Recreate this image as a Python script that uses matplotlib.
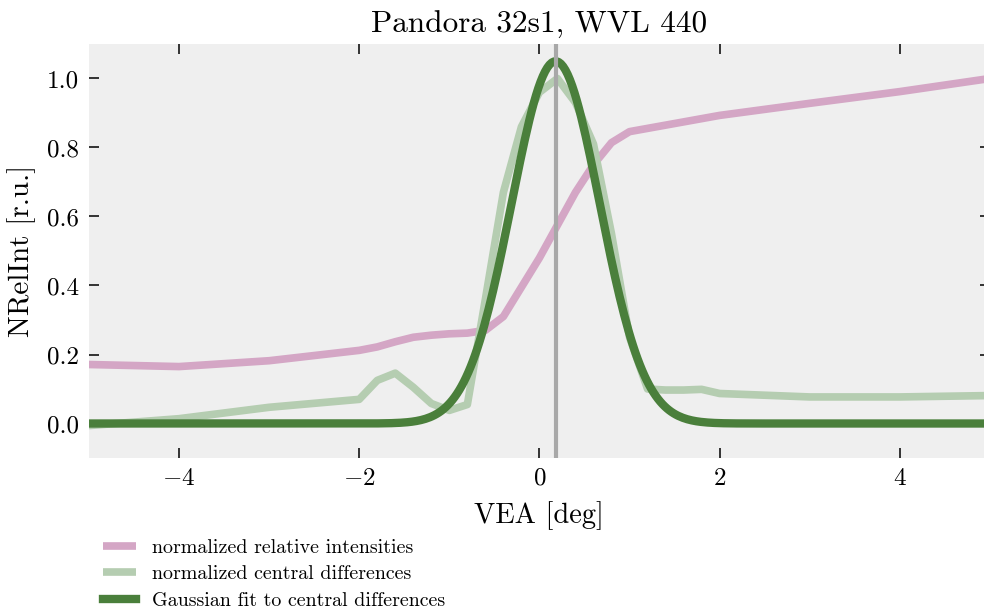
import numpy as np
import matplotlib.pyplot as plt

plt.rcParams['font.family'] = 'serif'
plt.rcParams['font.serif'] = ['cmr10']
plt.rcParams['mathtext.fontset'] = 'cm'
plt.rcParams['axes.formatter.use_mathtext'] = True

# relative intensities scan
vea_int = [-5, -4, -3, -2, -1.8, -1.6, -1.4, -1.2, -1.0, -0.8, -0.6, -0.4,
           -0.2, 0.0, 0.2, 0.4, 0.6, 0.8, 1.0, 2, 3, 4, 5]
rel_int = [0.171, 0.165, 0.182, 0.212, 0.222, 0.237, 0.250, 0.256, 0.260,
           0.262, 0.270, 0.310, 0.395, 0.480, 0.575, 0.670, 0.750, 0.814,
           0.846, 0.893, 0.928, 0.962, 1.0]

# central differences of the intensities
vea_diff = [-5, -4, -3, -2, -1.8, -1.6, -1.4, -1.2, -1.0, -0.8, -0.6, -0.4,
            -0.2, 0.0, 0.2, 0.4, 0.6, 0.8, 1.0, 1.2, 1.4, 1.6, 1.8, 2, 3, 4, 5]
cen_diff = [-0.006, 0.014, 0.047, 0.070, 0.125, 0.146, 0.105, 0.058, 0.038,
            0.055, 0.36, 0.67, 0.86, 0.96, 1.0, 0.93, 0.81, 0.55, 0.25, 0.10,
            0.097, 0.097, 0.099, 0.087, 0.077, 0.077, 0.081]

# gaussian fit parameters
fit_amp = 1.05
fit_center = 0.18
fit_sigma = 0.49

xfit = np.linspace(-5, 5, 400)
yfit = fit_amp * np.exp(-(xfit - fit_center) ** 2 / (2 * fit_sigma ** 2))

fig = plt.figure(figsize=(9.84, 6.11), dpi=100)
ax = fig.add_axes([0.0904, 0.2504, 0.9156, 0.6776])
ax.set_facecolor('#efefef')
for s in ax.spines.values():
    s.set_visible(False)

ax.plot(vea_int, rel_int, color='#d4a6c5', lw=5.5, solid_capstyle='butt',
        label='normalized relative intensities')
ax.plot(vea_diff, cen_diff, color='#b5cdb1', lw=5.5, solid_capstyle='butt',
        label='normalized central differences')
ax.plot(xfit, yfit, color='#4a7f3b', lw=6, label='Gaussian fit to central differences')
ax.axvline(fit_center, color='#a8a8a8', lw=3, zorder=4)

ax.set_xlim(-5, 5)
ax.set_ylim(-0.1, 1.1)
ax.set_xticks([-4, -2, 0, 2, 4])
ax.set_yticks([0.0, 0.2, 0.4, 0.6, 0.8, 1.0])
ax.set_yticklabels(['0.0', '0.2', '0.4', '0.6', '0.8', '1.0'])
ax.tick_params(direction='in', top=True, right=True, length=7, width=1.1,
               labelsize=18, pad=7)

ax.set_title('Pandora 32s1, WVL 440', fontsize=22.5, pad=8)
ax.set_xlabel('VEA [deg]', fontsize=20.5, labelpad=8)
ax.set_ylabel('NRelInt [r.u.]', fontsize=21, labelpad=8)

fig.legend(loc='upper left', bbox_to_anchor=(0.1045, 0.118), frameon=False,
           fontsize=14.4, handlelength=1.65, handletextpad=0.8,
           labelspacing=0.42, borderpad=0, borderaxespad=0)

fig.savefig('out.png', dpi=100)
